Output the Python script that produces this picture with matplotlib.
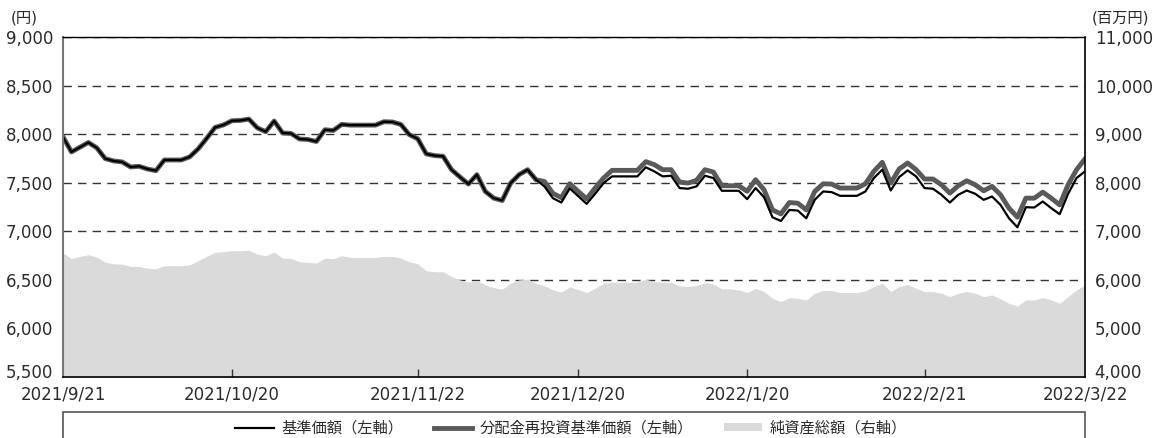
import numpy as np
import pandas as pd
import matplotlib
matplotlib.use("Agg")
import matplotlib.pyplot as plt
from matplotlib.ticker import FuncFormatter
from matplotlib.lines import Line2D
from matplotlib.patches import Patch, Rectangle
from matplotlib.transforms import ScaledTranslation

plt.rcParams['font.family'] = ['DejaVu Sans', 'Noto Sans CJK JP']

# ---- data ----
jp_holidays = ["2021-09-23", "2021-11-03", "2021-11-23", "2021-12-31", "2022-01-03",
               "2022-01-10", "2022-02-11", "2022-02-23", "2022-03-21"]
dates = pd.bdate_range("2021-09-21", "2022-03-22", freq="C", holidays=jp_holidays)

tick_dates = ["2021-09-21", "2021-10-20", "2021-11-22", "2021-12-20",
              "2022-01-20", "2022-02-21", "2022-03-22"]
tick_labels = ["2021/9/21", "2021/10/20", "2021/11/22", "2021/12/20",
               "2022/1/20", "2022/2/21", "2022/3/22"]

base_price = [
    7972, 7817, 7865, 7914, 7859, 7748, 7724, 7714, 7662, 7669,
    7641, 7624, 7734, 7734, 7734, 7766, 7848, 7955, 8069, 8095,
    8138, 8141, 8155, 8065, 8025, 8135, 8012, 8007, 7950, 7945,
    7924, 8045, 8038, 8100, 8093, 8093, 8093, 8093, 8128, 8125,
    8100, 7995, 7952, 7797, 7779, 7772, 7634, 7559, 7486, 7583,
    7410, 7341, 7317, 7496, 7583, 7634, 7531, 7462, 7341, 7296,
    7441, 7362, 7282, 7386, 7496, 7565, 7565, 7565, 7565, 7659,
    7617, 7565, 7572, 7445, 7438, 7462, 7572, 7548, 7417, 7417,
    7417, 7331, 7445, 7351, 7144, 7106, 7220, 7213, 7134, 7324,
    7410, 7403, 7365, 7365, 7365, 7410, 7548, 7634, 7420, 7558,
    7627, 7565, 7445, 7438, 7376, 7296, 7376, 7420, 7386, 7324,
    7358, 7272, 7134, 7041, 7248, 7245, 7307, 7238, 7176, 7386,
    7548, 7617,
]

reinvest_price = [
    7972, 7817, 7865, 7914, 7859, 7748, 7724, 7714, 7662, 7669,
    7641, 7624, 7734, 7734, 7734, 7766, 7848, 7955, 8069, 8095,
    8138, 8141, 8155, 8065, 8025, 8135, 8012, 8007, 7950, 7945,
    7924, 8045, 8038, 8100, 8093, 8093, 8093, 8093, 8128, 8125,
    8100, 7995, 7952, 7797, 7779, 7772, 7634, 7559, 7486, 7583,
    7410, 7341, 7317, 7496, 7583, 7634, 7531, 7512, 7391, 7346,
    7490, 7410, 7334, 7445, 7548, 7627, 7627, 7627, 7627, 7717,
    7686, 7634, 7634, 7507, 7496, 7524, 7634, 7610, 7469, 7469,
    7469, 7412, 7531, 7427, 7220, 7179, 7296, 7289, 7220, 7410,
    7489, 7486, 7445, 7445, 7445, 7489, 7617, 7710, 7496, 7641,
    7703, 7634, 7538, 7538, 7479, 7393, 7469, 7520, 7479, 7417,
    7462, 7376, 7238, 7145, 7341, 7341, 7403, 7341, 7272, 7479,
    7634, 7745,
]

net_assets = [
    6552, 6441, 6483, 6517, 6469, 6366, 6331, 6324, 6276, 6276,
    6241, 6228, 6290, 6290, 6290, 6310, 6393, 6483, 6566, 6579,
    6600, 6600, 6607, 6531, 6497, 6572, 6448, 6441, 6372, 6359,
    6345, 6448, 6434, 6497, 6462, 6462, 6462, 6462, 6483, 6483,
    6448, 6370, 6331, 6186, 6166, 6166, 6069, 6000, 5952, 5986,
    5897, 5841, 5807, 5931, 6000, 6014, 5931, 5883, 5793, 5752,
    5855, 5800, 5738, 5828, 5931, 5952, 5952, 5952, 5952, 6014,
    5966, 5952, 5952, 5876, 5862, 5883, 5945, 5917, 5814, 5814,
    5793, 5738, 5828, 5759, 5621, 5552, 5634, 5621, 5586, 5724,
    5779, 5779, 5738, 5738, 5738, 5772, 5862, 5931, 5759, 5862,
    5905, 5828, 5759, 5759, 5724, 5655, 5724, 5759, 5724, 5655,
    5690, 5607, 5517, 5462, 5586, 5586, 5634, 5586, 5517, 5655,
    5793, 5897,
]

left_ticks = [5500, 6000, 6500, 7000, 7500, 8000, 8500, 9000]
right_ticks = [4000, 5000, 6000, 7000, 8000, 9000, 10000, 11000]

legend_labels = ["基準価額（左軸）", "分配金再投資基準価額（左軸）", "純資産総額（右軸）"]

# ---- drawing ----
W, H = 1165, 438
fig = plt.figure(figsize=(W / 100, H / 100), dpi=100)
L, R, T, B = 63, 1085, 37, 377
ax = fig.add_axes([L / W, 1 - B / H, (R - L) / W, (B - T) / H])
ax2 = ax.twinx()
ax.set_zorder(ax2.get_zorder() + 1)
ax.patch.set_visible(False)

x = np.arange(len(dates))
txt_color = '#2b2b2b'
grey_line = '#5a5a5a'
area_color = '#dadada'

# right axis: area + dashed grid (grid sits behind the area)
ax2.set_axisbelow(True)
ax2.fill_between(x, net_assets, right_ticks[0], color=area_color, lw=0, zorder=2)
ax2.set_ylim(right_ticks[0], right_ticks[-1])
ax2.set_yticks(right_ticks)
ax2.grid(axis='y', linestyle=(0, (6, 4.5)), color='#333333', lw=1.0)
ax2.yaxis.set_major_formatter(FuncFormatter(lambda v, p: f"{v:,.0f}"))
ax2.tick_params(axis='y', length=0, pad=7, labelsize=12, labelcolor=txt_color)
for s in ax2.spines.values():
    s.set_visible(False)

# left axis: lines
ax.plot(x, reinvest_price, color=grey_line, lw=3.5, solid_joinstyle='round')
ax.plot(x, base_price, color='black', lw=1.6, solid_joinstyle='round')
ax.set_ylim(left_ticks[0], left_ticks[-1])
ax.set_yticks(left_ticks)
ax.yaxis.set_major_formatter(FuncFormatter(lambda v, p: f"{v:,.0f}"))
ax.tick_params(axis='y', length=0, pad=7, labelsize=12, labelcolor=txt_color)
ax.set_xlim(x[0], x[-1])

tick_pos = [dates.get_loc(pd.Timestamp(d)) for d in tick_dates]
ax.set_xticks(tick_pos)
ax.set_xticklabels(tick_labels)
ax.tick_params(axis='x', direction='in', length=6, width=1, color='#333333',
               pad=6, labelsize=12, labelcolor=txt_color)
xt = ax.xaxis.get_major_ticks()
xt[0].tick1line.set_visible(False)
xt[-1].tick1line.set_visible(False)

# lift the lowest y labels a little so they clear the date labels
lift = ScaledTranslation(0, 6 / 100, fig.dpi_scale_trans)
lt = ax.yaxis.get_major_ticks()[0].label1
lt.set_transform(lt.get_transform() + lift)
rt = ax2.yaxis.get_major_ticks()[0].label2
rt.set_transform(rt.get_transform() + lift)

ax.spines['left'].set_color('#777777')
ax.spines['left'].set_linewidth(1.5)
ax.spines['top'].set_color('black')
ax.spines['top'].set_linewidth(1.0)
ax.spines['bottom'].set_color('black')
ax.spines['bottom'].set_linewidth(1.2)
ax.spines['right'].set_color('black')
ax.spines['right'].set_linewidth(1.2)

# unit labels
fig.text(24 / W, 1 - 18 / H, "(円)", ha='center', va='center', fontsize=11, color=txt_color)
fig.text(1092 / W, 1 - 18 / H, "(百万円)", ha='left', va='center', fontsize=11, color=txt_color)

# legend box (runs off the bottom edge)
fig.add_artist(Rectangle((L / W, -0.1), (R - L) / W, 0.1 + (1 - 412 / H),
                         transform=fig.transFigure, fill=False, ec='#555555', lw=1.2))
handles = [Line2D([], [], color='black', lw=1.6),
           Line2D([], [], color=grey_line, lw=3.5),
           Patch(facecolor=area_color, edgecolor='none')]
fig.legend(handles, legend_labels, loc='center', bbox_to_anchor=(571 / W, 1 - 428 / H),
           ncol=3, frameon=False, fontsize=11, handlelength=2.5, handleheight=0.5,
           handletextpad=0.5, columnspacing=2.0, labelcolor=txt_color)

fig.savefig("out.png", dpi=100)
